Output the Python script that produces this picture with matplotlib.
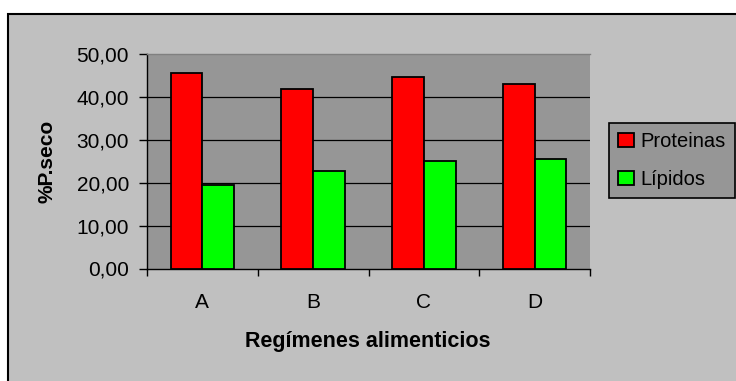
import matplotlib
matplotlib.use("Agg")
import matplotlib.pyplot as plt
from matplotlib.patches import Rectangle
from matplotlib.ticker import FuncFormatter, FixedLocator
import numpy as np

categories = ["A", "B", "C", "D"]
proteinas = [45.6, 41.9, 44.7, 42.9]
lipidos = [19.5, 22.8, 25.1, 25.5]
series_names = ["Proteinas", "Lípidos"]
yticks = [0, 10, 20, 30, 40, 50]

plt.rcParams['font.family'] = ['Liberation Sans', 'DejaVu Sans']

W, H = 736, 381
fig = plt.figure(figsize=(W / 100, H / 100), dpi=100, facecolor="white")

# chart area frame
fig.patches.append(Rectangle((8 / W, -0.05), 1.1, 1 - 14 / H + 0.05,
                             transform=fig.transFigure, facecolor="#C0C0C0",
                             edgecolor="black", linewidth=1.5, zorder=-10))

ax = fig.add_axes([147 / W, 1 - 268.5 / H, (590 - 147) / W, (268.5 - 54) / H])
ax.set_facecolor("#969696")

x = np.arange(len(categories))
bw = 0.286
ax.bar(x - bw / 2, proteinas, bw, color="#FF0000", edgecolor="black",
       linewidth=1.3, label=series_names[0], zorder=3)
ax.bar(x + bw / 2, lipidos, bw, color="#00FF00", edgecolor="black",
       linewidth=1.3, label=series_names[1], zorder=3)

ax.set_xlim(-0.5, len(categories) - 0.5)
ax.set_ylim(0, 50)
ax.set_yticks(yticks)
ax.yaxis.set_major_formatter(FuncFormatter(lambda v, p: f"{v:.2f}".replace(".", ",")))
ax.set_xticks(x)
ax.set_xticklabels(categories)
ax.xaxis.set_minor_locator(FixedLocator(np.arange(-0.5, len(categories), 1.0)))

ax.tick_params(axis="y", direction="out", length=6, width=1, pad=7, labelsize=15, colors="black")
ax.tick_params(axis="x", which="major", length=0, pad=18, labelsize=15)
ax.tick_params(axis="x", which="minor", direction="out", length=5, width=1)

ax.grid(axis="y", color="black", linewidth=0.9, zorder=1)
gl = ax.get_ygridlines()
gl[0].set_visible(False)
gl[-1].set_visible(False)

ax.spines["right"].set_visible(False)
ax.spines["top"].set_color("#808080")
ax.spines["top"].set_linewidth(1.0)
ax.spines["left"].set_linewidth(1.0)
ax.spines["bottom"].set_linewidth(1.0)

ax.set_ylabel("%P.seco", fontsize=15, fontweight="bold", va="center")
ax.yaxis.set_label_coords((47 - 147) / 443, 0.5)
ax.set_xlabel("Regímenes alimenticios", fontsize=15.5, fontweight="bold", va="center")
ax.xaxis.set_label_coords(0.498, (268.5 - 342) / 214.5)

leg = fig.legend(loc="upper left", bbox_to_anchor=(609 / W, 1 - 123 / H),
                 fontsize=14.5, frameon=True, fancybox=False, framealpha=1,
                 facecolor="#969696", edgecolor="black",
                 handlelength=0.78, handleheight=0.72, handletextpad=0.35,
                 labelspacing=0.95, borderpad=0.45, borderaxespad=0)
leg.get_frame().set_linewidth(1.2)

fig.savefig("out.png", dpi=100, facecolor="white")
